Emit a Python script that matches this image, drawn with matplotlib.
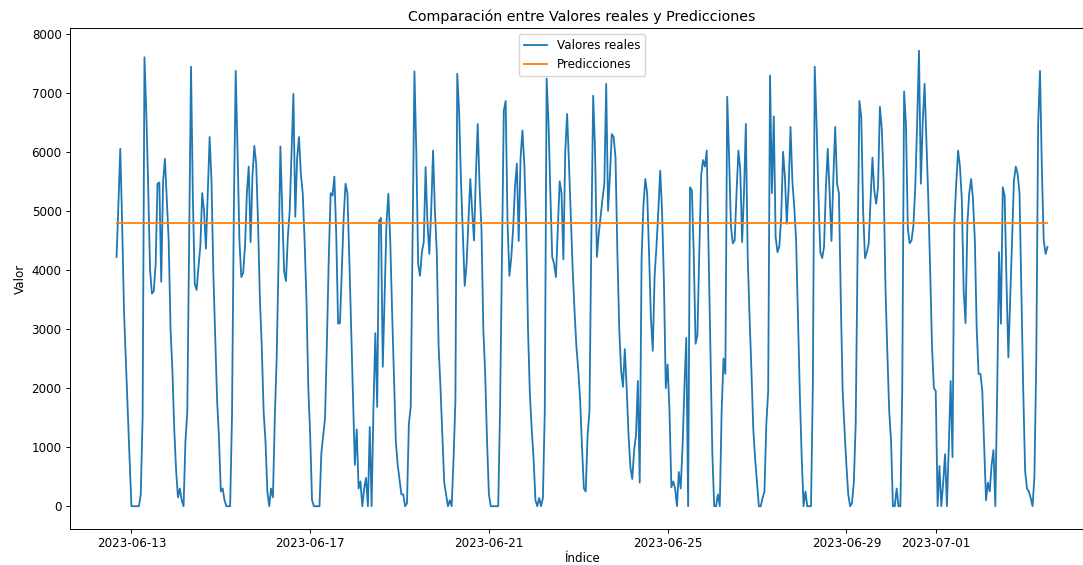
#!/usr/bin/env python3
"""
Comparación entre valores reales y predicciones
"""

import matplotlib
matplotlib.use('Agg')  # Non-interactive backend
import matplotlib.pyplot as plt
import pandas as pd

START = '2023-06-12 16:00'
valores_reales = [
    4220, 5100, 6050, 4800, 3300, 2450, 1650, 800, 0, 0,
    0, 0, 0, 200, 1500, 7600, 6640, 5400, 4000, 3600,
    3640, 4100, 5460, 5480, 3800, 5500, 5880, 5200, 4500, 3000,
    2300, 1300, 600, 150, 300, 100, 0, 1100, 1600, 4500,
    7440, 5200, 3760, 3660, 4050, 4400, 5300, 5000, 4360, 5300,
    6250, 5500, 3930, 2860, 1800, 1170, 250, 300, 100, 0,
    0, 0, 1500, 5000, 7370, 6000, 4500, 3880, 3950, 4400,
    5300, 5750, 4470, 5600, 6100, 5800, 4800, 3500, 2700, 1600,
    1100, 250, 0, 300, 150, 1500, 2500, 4130, 6090, 5000,
    3980, 3810, 4560, 5000, 6000, 6980, 4900, 5900, 6250, 5620,
    5300, 4500, 3500, 2000, 1200, 100, 0, 0, 0, 0,
    900, 1200, 1500, 2800, 4220, 5300, 5260, 5580, 4600, 3090,
    3100, 4000, 4900, 5460, 5300, 4220, 3000, 1850, 700, 1300,
    300, 420, 0, 300, 480, 0, 1340, 0, 1680, 2930,
    1680, 4830, 4880, 2360, 3600, 4800, 5290, 4500, 3300, 2200,
    1100, 700, 450, 200, 200, 0, 50, 1390, 1680, 4500,
    7360, 6000, 4100, 3900, 4300, 4470, 5740, 4800, 4270, 5000,
    6020, 5000, 4300, 2700, 2000, 1200, 400, 200, 0, 100,
    0, 800, 1780, 7320, 6680, 5500, 4600, 3730, 4100, 4800,
    5540, 5000, 4500, 5600, 6470, 5400, 4700, 3000, 2240, 1100,
    200, 0, 0, 0, 0, 0, 1680, 4220, 6700, 6860,
    4800, 3900, 4200, 4700, 5400, 5800, 4490, 5900, 6360, 5800,
    4800, 3000, 1900, 1300, 800, 100, 0, 140, 0, 140,
    1610, 7240, 6500, 5300, 4220, 4100, 3880, 4700, 5500, 5300,
    4180, 6000, 6640, 5800, 4900, 4000, 3300, 2700, 2300, 1800,
    1000, 300, 250, 1200, 1610, 4500, 6950, 6050, 4220, 4610,
    4900, 5200, 5460, 7150, 5000, 5600, 6300, 6250, 5900, 4300,
    3000, 2300, 2020, 2660, 2000, 1200, 660, 460, 950, 1200,
    2120, 400, 4200, 5100, 5540, 5300, 4300, 3200, 2630, 3900,
    4400, 5000, 5680, 5000, 3800, 2000, 2400, 1600, 320, 420,
    300, 0, 580, 300, 1000, 2000, 2850, 0, 5400, 5350,
    4300, 2750, 2900, 4300, 5600, 5860, 5750, 6020, 4300, 2600,
    900, 0, 0, 200, 0, 1610, 2500, 2240, 6930, 5920,
    4730, 4450, 4500, 5300, 6020, 5700, 4470, 5300, 6470, 4220,
    3200, 2300, 1300, 800, 400, 0, 0, 140, 250, 1390,
    1950, 7290, 5300, 6600, 4560, 4300, 4400, 4900, 6000, 5560,
    4780, 5400, 6420, 5500, 5070, 4500, 3200, 1900, 830, 0,
    250, 0, 0, 0, 2070, 7440, 6470, 5250, 4300, 4200,
    4390, 5400, 6050, 5300, 4490, 5560, 6420, 5460, 5300, 3500,
    1950, 1300, 700, 200, 0, 50, 400, 1390, 4220, 6860,
    6580, 5000, 4200, 4300, 4450, 5200, 5900, 5340, 5120, 5400,
    6760, 6400, 5500, 3700, 2600, 1610, 1100, 0, 0, 300,
    0, 0, 1950, 7020, 6470, 4700, 4450, 4500, 4750, 5400,
    6470, 7710, 5460, 6500, 7150, 6200, 5200, 4000, 2700, 2000,
    1950, 0, 680, 0, 400, 880, 0, 1000, 2120, 830,
    4800, 5460, 6020, 5750, 5200, 3640, 3100, 4800, 5300, 5540,
    5200, 4500, 3000, 2240, 2240, 1950, 1000, 100, 400, 250,
    700, 950, 0, 1950, 4300, 3090, 5400, 5260, 3800, 2520,
    3500, 4500, 5510, 5750, 5620, 5300, 3640, 1950, 600, 300,
    250, 140, 0, 500, 2500, 6470, 7370, 5700, 4500, 4270,
    4390,
]
prediccion = 4800  # the model predicts the same value every hour

fechas = pd.date_range(START, periods=len(valores_reales), freq='h')
predicciones = [prediccion] * len(valores_reales)

# original figure was rendered a bit larger and shrunk to this size
FS = 8.6
plt.rcParams['axes.linewidth'] = 0.7
plt.rcParams['xtick.major.width'] = 0.7
plt.rcParams['ytick.major.width'] = 0.7
plt.rcParams['xtick.major.size'] = 3
plt.rcParams['ytick.major.size'] = 3
plt.rcParams['xtick.major.pad'] = 3
plt.rcParams['ytick.major.pad'] = 3

fig = plt.figure(figsize=(10.83, 5.65), dpi=100)
ax = fig.add_axes([70 / 1083, 36 / 565, 1024 / 1083, 501 / 565])

ax.plot(fechas, valores_reales, color='#1f77b4', linewidth=1.3, label='Valores reales')
ax.plot(fechas, predicciones, color='#ff7f0e', linewidth=1.3, label='Predicciones')

ax.set_title('Comparación entre Valores reales y Predicciones', fontsize=10.3, pad=5)
ax.set_xlabel('Índice', fontsize=FS, labelpad=1)
ax.set_ylabel('Valor', fontsize=FS, labelpad=3)
ax.tick_params(labelsize=FS)
ax.legend(loc='upper center', fontsize=FS)

plt.savefig('out.png', dpi=100)
plt.close()
